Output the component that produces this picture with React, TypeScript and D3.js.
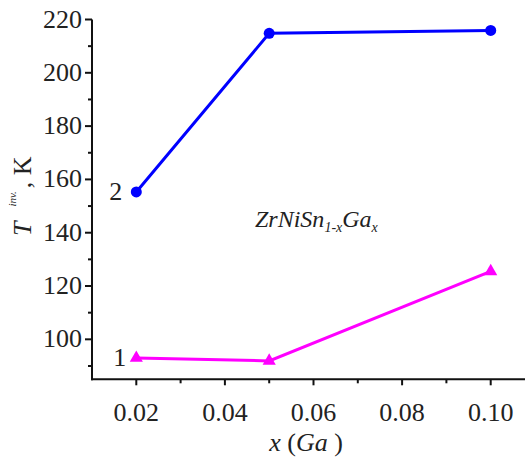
import React from "react";
import * as d3 from "d3";

// Composition x in ZrNiSn(1-x)Ga(x)
const xValues = [0.02, 0.05, 0.10];
// Curve 2: upper branch (blue circles)
const series2 = [155.3, 214.8, 215.9];
// Curve 1: lower branch (magenta triangles)
const series1 = [93.0, 91.9, 125.5];

const xTickValues = [0.02, 0.04, 0.06, 0.08, 0.10];
const xTickLabels = ["0.02", "0.04", "0.06", "0.08", "0.10"];
const yTickValues = [100, 120, 140, 160, 180, 200, 220];
const xMinorTicks = [0.03, 0.05, 0.07, 0.09];
const yMinorTicks = [90, 110, 130, 150, 170, 190, 210];

const W = 525;
const H = 459;
const FONT = "Liberation Serif, Times New Roman, serif";

export default function App() {
  const x = d3.scaleLinear().domain([0.01, 0.11]).range([92, 535]);
  const y = d3.scaleLinear().domain([85, 220]).range([379.3, 19.5]);

  const line = d3
    .line<[number, number]>()
    .x((d) => x(d[0]))
    .y((d) => y(d[1]));

  const pts2: [number, number][] = xValues.map((v, i) => [v, series2[i]]);
  const pts1: [number, number][] = xValues.map((v, i) => [v, series1[i]]);
  const tri = d3.symbol().type(d3.symbolTriangle).size(75)();

  const x0 = x.range()[0];
  const y0 = y.range()[0];

  return (
    <svg
      width={W}
      height={H}
      style={{ position: "absolute", left: 0, top: 0, background: "#fff", fontFamily: FONT }}
    >
      {/* axes */}
      <line x1={x0} x2={x0} y1={y(220)} y2={y0 + 1} stroke="#111" strokeWidth={2} />
      <line x1={x0 - 1} x2={W} y1={y0} y2={y0} stroke="#111" strokeWidth={2} />

      {yTickValues.map((v) => (
        <g key={"yt" + v}>
          <line x1={x0 - 7} x2={x0} y1={y(v)} y2={y(v)} stroke="#111" strokeWidth={2} />
          <text x={x0 - 10} y={y(v) + 8} textAnchor="end" fontSize={26} fill="#222">
            {v}
          </text>
        </g>
      ))}
      {yMinorTicks.map((v) => (
        <line key={"ym" + v} x1={x0 - 4} x2={x0} y1={y(v)} y2={y(v)} stroke="#111" strokeWidth={2} />
      ))}

      {xTickValues.map((v, i) => (
        <g key={"xt" + v}>
          <line x1={x(v)} x2={x(v)} y1={y0} y2={y0 + 6} stroke="#111" strokeWidth={2} />
          <text x={x(v)} y={y0 + 42} textAnchor="middle" fontSize={26} fill="#222">
            {xTickLabels[i]}
          </text>
        </g>
      ))}
      {xMinorTicks.map((v) => (
        <line key={"xm" + v} x1={x(v)} x2={x(v)} y1={y0} y2={y0 + 4} stroke="#111" strokeWidth={2} />
      ))}

      {/* axis titles */}
      <text x={306} y={451} textAnchor="middle" fontSize={26} fill="#222">
        <tspan fontStyle="italic">x</tspan>
        <tspan> (</tspan>
        <tspan fontStyle="italic">Ga</tspan>
        <tspan> )</tspan>
      </text>
      <text transform="translate(31,236) rotate(-90)" fontSize={26} fill="#222">
        <tspan fontStyle="italic">T</tspan>
        <tspan fontStyle="italic" fontSize={11} dx={15} dy={-15}>inv.</tspan>
        <tspan dy={15} dx={3}>, K</tspan>
      </text>

      {/* compound formula */}
      <text x={255} y={227} fontSize={24} fontStyle="italic" fill="#222">
        <tspan>ZrNiSn</tspan>
        <tspan fontSize={14} dy={5}>1-x</tspan>
        <tspan dy={-5}>Ga</tspan>
        <tspan fontSize={14} dy={5}>x</tspan>
      </text>

      {/* curve 2 */}
      <path d={line(pts2) ?? ""} fill="none" stroke="#0000ff" strokeWidth={3} />
      {pts2.map((p, i) => (
        <circle key={"c" + i} cx={x(p[0])} cy={y(p[1])} r={5.5} fill="#0000ff" />
      ))}
      <text x={x(xValues[0]) - 14} y={y(series2[0]) + 8} textAnchor="end" fontSize={26} fill="#222">
        2
      </text>

      {/* curve 1 */}
      <path d={line(pts1) ?? ""} fill="none" stroke="#ff00ff" strokeWidth={3} />
      {pts1.map((p, i) => (
        <path
          key={"t" + i}
          d={tri ?? ""}
          transform={`translate(${x(p[0])},${y(p[1])})`}
          fill="#ff00ff"
        />
      ))}
      <text x={x(xValues[0]) - 10} y={y(series1[0]) + 8} textAnchor="end" fontSize={26} fill="#222">
        1
      </text>
    </svg>
  );
}
